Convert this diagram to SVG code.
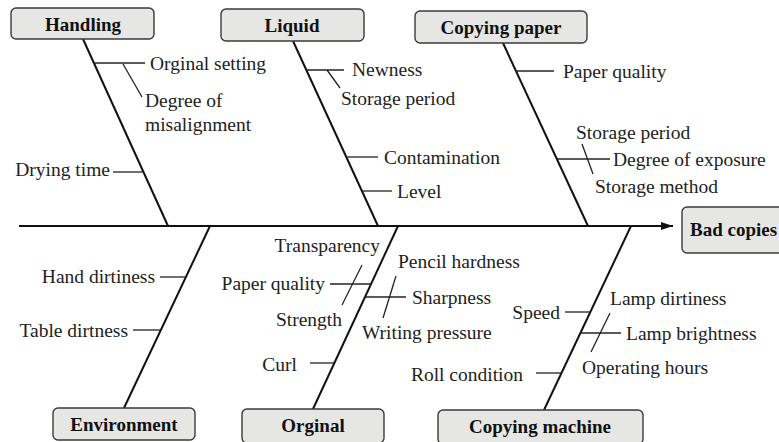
<svg xmlns="http://www.w3.org/2000/svg" width="779" height="442" viewBox="0 0 779 442">
<style>
.bg{fill:#fff}
.box{fill:#e6e6e4;stroke:#3a3a3a;stroke-width:1.4}
.lbl{font-family:"Liberation Serif","Times New Roman",serif;font-weight:bold;font-size:19px;fill:#111;text-anchor:middle}
.t{font-family:"Liberation Serif","Times New Roman",serif;font-size:19.5px;fill:#222}
.e{text-anchor:end}
.bone{stroke:#111;stroke-width:2;fill:none}
.sub{stroke:#222;stroke-width:1.3;fill:none}
</style>
<defs>
<marker id="ah" markerWidth="12" markerHeight="8" refX="12" refY="4" orient="auto" markerUnits="userSpaceOnUse">
<path d="M0,0 L12,4 L0,8 Z" fill="#111"/>
</marker>
</defs>
<rect class="bg" x="0" y="0" width="779" height="442"/>
<g id="connectors">
<line class="bone" x1="19" y1="226" x2="673" y2="226" marker-end="url(#ah)"/>
<line class="bone" x1="83" y1="39" x2="168" y2="226"/>
<line class="bone" x1="293" y1="41" x2="378" y2="226"/>
<line class="bone" x1="503" y1="43" x2="588" y2="226"/>
<line class="bone" x1="210" y1="226" x2="124" y2="408"/>
<line class="bone" x1="398" y1="226" x2="313" y2="409"/>
<line class="bone" x1="631" y1="226" x2="544" y2="410"/>
<line class="sub" x1="94" y1="63" x2="145" y2="63"/>
<line class="sub" x1="123" y1="64" x2="142" y2="97"/>
<line class="sub" x1="113" y1="172" x2="144" y2="172"/>
<line class="sub" x1="306" y1="70" x2="344" y2="70"/>
<line class="sub" x1="327" y1="70" x2="340" y2="88"/>
<line class="sub" x1="346" y1="157" x2="378" y2="157"/>
<line class="sub" x1="362" y1="191" x2="392" y2="191"/>
<line class="sub" x1="516" y1="71" x2="554" y2="71"/>
<line class="sub" x1="557" y1="159" x2="610" y2="159"/>
<line class="sub" x1="582" y1="144" x2="593" y2="174"/>
<line class="sub" x1="160" y1="277" x2="186" y2="277"/>
<line class="sub" x1="133" y1="330" x2="161" y2="330"/>
<line class="sub" x1="330" y1="284" x2="371" y2="284"/>
<line class="sub" x1="362" y1="265" x2="342" y2="305"/>
<line class="sub" x1="365" y1="297" x2="406" y2="297"/>
<line class="sub" x1="396" y1="276" x2="383" y2="318"/>
<line class="sub" x1="310" y1="363" x2="334" y2="363"/>
<line class="sub" x1="565" y1="312" x2="590" y2="312"/>
<line class="sub" x1="580" y1="333" x2="621" y2="333"/>
<line class="sub" x1="610" y1="313" x2="591" y2="352"/>
<line class="sub" x1="536" y1="373" x2="561" y2="373"/>
</g>
<g id="handling">
<rect class="box" x="11" y="8" width="143" height="31" rx="5"/>
<text class="lbl" x="83" y="31">Handling</text>
<text class="t" x="150" y="70">Orginal setting</text>
<text class="t" x="145" y="107">Degree of</text>
<text class="t" x="145" y="131">misalignment</text>
<text class="t e" x="110" y="176">Drying time</text>
</g>
<g id="liquid">
<rect class="box" x="221" y="9" width="143" height="32" rx="5"/>
<text class="lbl" x="292" y="32">Liquid</text>
<text class="t" x="352" y="76">Newness</text>
<text class="t" x="341" y="105">Storage period</text>
<text class="t" x="384" y="164">Contamination</text>
<text class="t" x="397" y="198">Level</text>
</g>
<g id="copying-paper">
<rect class="box" x="415" y="11" width="172" height="32" rx="5"/>
<text class="lbl" x="501" y="34">Copying paper</text>
<text class="t" x="563" y="78">Paper quality</text>
<text class="t" x="576" y="139">Storage period</text>
<text class="t" x="613" y="166">Degree of exposure</text>
<text class="t" x="595" y="193">Storage method</text>
</g>
<g id="bad-copies">
<rect class="box" x="682" y="207" width="110" height="46" rx="5"/>
<text class="lbl" x="690" y="236" style="text-anchor:start">Bad copies</text>
</g>
<g id="environment">
<rect class="box" x="53" y="408" width="142" height="32" rx="5"/>
<text class="lbl" x="124" y="431">Environment</text>
<text class="t e" x="155" y="283">Hand dirtiness</text>
<text class="t e" x="128" y="337">Table dirtness</text>
</g>
<g id="orginal">
<rect class="box" x="242" y="409" width="142" height="34" rx="5"/>
<text class="lbl" x="313" y="432">Orginal</text>
<text class="t e" x="380" y="252">Transparency</text>
<text class="t e" x="325" y="290">Paper quality</text>
<text class="t e" x="342" y="326">Strength</text>
<text class="t" x="398" y="268">Pencil hardness</text>
<text class="t" x="412" y="304">Sharpness</text>
<text class="t" x="362" y="339">Writing pressure</text>
<text class="t e" x="297" y="371">Curl</text>
</g>
<g id="copying-machine">
<rect class="box" x="438" y="410" width="205" height="34" rx="5"/>
<text class="lbl" x="540" y="433">Copying machine</text>
<text class="t e" x="560" y="319">Speed</text>
<text class="t" x="610" y="305">Lamp dirtiness</text>
<text class="t" x="626" y="340">Lamp brightness</text>
<text class="t" x="582" y="374">Operating hours</text>
<text class="t e" x="523" y="381">Roll condition</text>
</g>
</svg>
